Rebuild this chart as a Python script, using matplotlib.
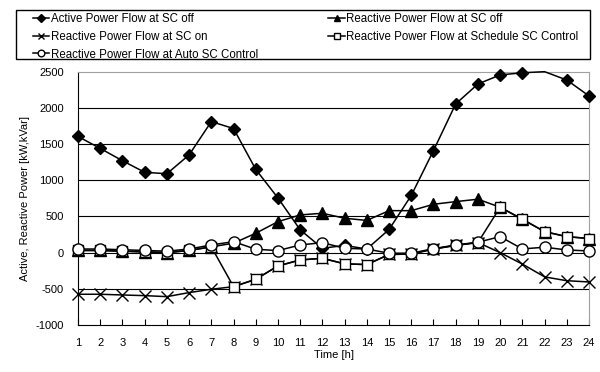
import matplotlib
matplotlib.use("Agg")
import matplotlib.pyplot as plt
from matplotlib.patches import Rectangle

plt.rcParams["font.family"] = ["Liberation Sans", "DejaVu Sans"]
plt.rcParams["font.size"] = 8
plt.rcParams["axes.unicode_minus"] = False

hours = list(range(1, 25))

active_sc_off = [1605, 1440, 1270, 1110, 1090, 1350, 1810, 1715, 1150, 755, 315, 60,
                 100, 50, 320, 790, 1410, 2055, 2330, 2455, 2485, 2500, 2385, 2165]
reactive_sc_off = [30, 30, 20, 10, 0, 30, 80, 130, 268, 428, 521, 544,
                   475, 445, 580, 580, 668, 705, 738, 627, 461, 290, 221, 195]
reactive_sc_on = [-575, -575, -585, -594, -608, -552, -506, -470, -368, -184, -101, -78,
                  -155, -165, -25, -20, 50, 100, 140, 0, -158, -335, -388, -405]
reactive_schedule = [30, 30, 20, 10, 0, 30, 80, -470, -368, -184, -101, -78,
                     -155, -165, -25, -20, 50, 100, 140, 627, 461, 290, 221, 195]
reactive_auto = [50, 50, 40, 30, 20, 50, 106, 152, 47, 28, 106, 138,
                 60, 50, -8, -8, 55, 106, 144, 221, 51, 75, 37, 23]

y_ticks = [-1000, -500, 0, 500, 1000, 1500, 2000, 2500]


def main():
    fig = plt.figure(figsize=(6, 3.72), dpi=100)
    ax = fig.add_axes([0.13, 0.1263, 0.8517, 0.681])

    # Excel hides markers that sit on the top edge of the plot area
    keep = [i for i, v in enumerate(active_sc_off) if v < 2500]

    common = dict(color="black", linewidth=1.1, clip_on=False)
    l_act, = ax.plot(hours, active_sc_off, marker="D", markersize=6.5,
                     markerfacecolor="black", markevery=keep, zorder=3, **common)
    l_off, = ax.plot(hours, reactive_sc_off, marker="^", markersize=8,
                     markerfacecolor="black", zorder=4, **common)
    l_on, = ax.plot(hours, reactive_sc_on, marker="x", markersize=8,
                    markeredgewidth=1.0, zorder=5, **common)
    l_sch, = ax.plot(hours, reactive_schedule, marker="s", markersize=7,
                     markerfacecolor="white", zorder=6, **common)
    l_auto, = ax.plot(hours, reactive_auto, marker="o", markersize=8,
                      markerfacecolor="white", zorder=7, **common)

    ax.set_xlim(1, 24)
    ax.set_ylim(-1000, 2500)
    ax.set_xticks(hours)
    ax.set_yticks(y_ticks)
    for y in y_ticks[1:-1]:
        ax.axhline(y, color="black", linewidth=0.8, zorder=1)

    ax.spines["top"].set_color("#a0a0a0")
    ax.spines["right"].set_color("#a0a0a0")
    ax.tick_params(axis="x", direction="in", length=4, pad=9)
    ax.tick_params(axis="y", length=0, pad=10)

    ax.set_xlabel("Time [h]", labelpad=2)
    ax.set_ylabel("Active, Reactive Power [kW,kVar]", labelpad=4)

    # legend box drawn separately so the entries can sit where Excel put them
    fig.patches.append(Rectangle((16 / 600, 1 - 59 / 372), 574 / 600, 49 / 372,
                                 transform=fig.transFigure, fill=False,
                                 edgecolor="black", linewidth=1.0))
    handles = [l_act, l_on, l_auto, l_off, l_sch]
    labels = ["Active Power Flow at SC off",
              "Reactive Power Flow at SC on",
              "Reactive Power Flow at Auto SC Control",
              "Reactive Power Flow at SC off",
              "Reactive Power Flow at Schedule SC Control"]
    fig.legend(handles, labels, ncol=2, loc="upper left",
               bbox_to_anchor=(33 / 600, 1 - 13 / 372), borderaxespad=0,
               borderpad=0, frameon=False, prop={"size": 8.3},
               markerscale=0.6, handlelength=1.4, handletextpad=0.15,
               labelspacing=0.5, columnspacing=6.1)

    fig.savefig("out.png", dpi=100)
    plt.close(fig)


if __name__ == "__main__":
    main()
